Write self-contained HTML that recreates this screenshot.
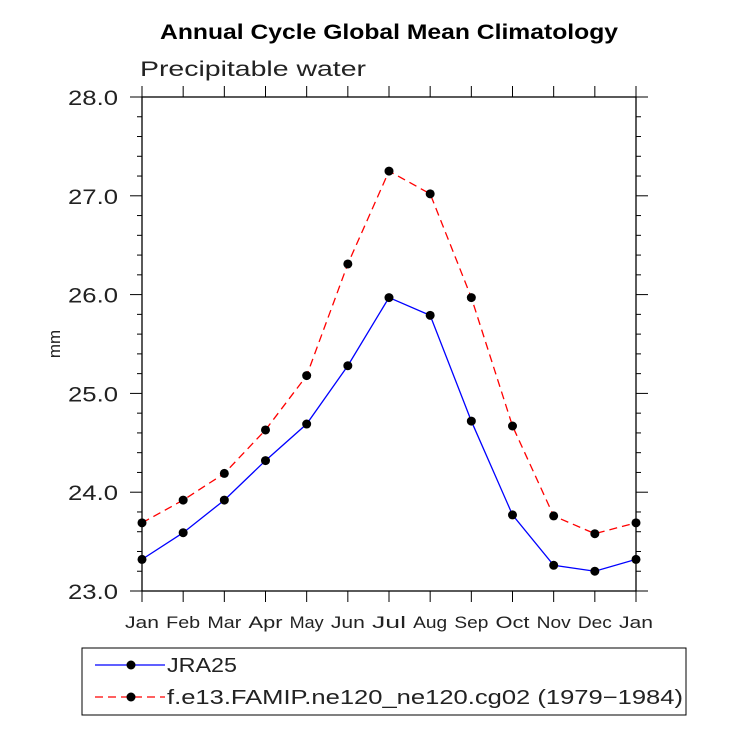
<!DOCTYPE html>
<html><head><meta charset="utf-8"><style>body{margin:0;background:#fff}svg text{font-family:"Liberation Sans",sans-serif}</style></head>
<body>
<svg id="c" width="733" height="734" xmlns="http://www.w3.org/2000/svg">
<text x="160" y="39" font-size="21" font-weight="bold" textLength="458" lengthAdjust="spacingAndGlyphs">Annual Cycle Global Mean Climatology</text>
<text x="140" y="76" font-size="21" fill="#222" textLength="226" lengthAdjust="spacingAndGlyphs">Precipitable water</text>
<text transform="translate(60,344) rotate(-90)" text-anchor="middle" font-size="17" fill="#222">mm</text>
<g id="axes"></g><g id="series"></g>
<g>
<rect x="82" y="648" width="604" height="67" fill="none" stroke="#000" stroke-width="1"/>
<line x1="95" y1="665" x2="165" y2="665" stroke="#00f" stroke-width="1.3"/><circle cx="131" cy="665" r="4.5"/>
<text x="167" y="672" font-size="20" fill="#222" textLength="70" lengthAdjust="spacingAndGlyphs">JRA25</text>
<line x1="95" y1="697" x2="165" y2="697" stroke="#f00" stroke-width="1.3" stroke-dasharray="8,5"/><circle cx="131" cy="697" r="4.5"/>
<text x="167" y="704" font-size="20" fill="#222" textLength="516" lengthAdjust="spacingAndGlyphs">f.e13.FAMIP.ne120_ne120.cg02 (1979−1984)</text>
</g>
</svg>
<script>
const months=["Jan","Feb","Mar","Apr","May","Jun","Jul","Aug","Sep","Oct","Nov","Dec","Jan"];
const jra25=[23.32,23.59,23.92,24.32,24.69,25.28,25.97,25.79,24.72,23.77,23.26,23.20,23.32];
const famip=[23.69,23.92,24.19,24.63,25.18,26.31,27.25,27.02,25.97,24.67,23.76,23.58,23.69];
const yTicks=["23.0","24.0","25.0","26.0","27.0","28.0"];
const NS="http://www.w3.org/2000/svg";
const L=142,R=636,T=97,B=591,ymin=23,ymax=28;
const xs=i=>L+(R-L)*i/(months.length-1);
const ys=v=>B-(v-ymin)/(ymax-ymin)*(B-T);
function mk(t,a,p){const e=document.createElementNS(NS,t);for(const k in a)e.setAttribute(k,a[k]);p.appendChild(e);return e;}
const ax=document.getElementById('axes');
const frame=mk('rect',{x:L,y:T,width:R-L,height:B-T,fill:'none',stroke:'#000','stroke-width':1.3},ax);


for(let v=ymin;v<=ymax+1e-9;v+=0.2){const y=ys(v);const maj=Math.abs(v-Math.round(v))<1e-6;const len=maj?12:5;
mk('line',{x1:L-len,y1:y,x2:L,y2:y,stroke:'#000'},ax);mk('line',{x1:R,y1:y,x2:R+len,y2:y,stroke:'#000'},ax);}
yTicks.forEach(s=>{const t=mk('text',{x:L-24,y:ys(parseFloat(s))+8,'text-anchor':'end','font-size':21,fill:'#222',textLength:50,lengthAdjust:'spacingAndGlyphs'},ax);t.textContent=s;

});
months.forEach((m,i)=>{const x=xs(i);mk('line',{x1:x,y1:B,x2:x,y2:B+11,stroke:'#000'},ax);mk('line',{x1:x,y1:T-11,x2:x,y2:T,stroke:'#000'},ax);
const t=mk('text',{x:x-17,y:B+37,'font-size':17,fill:'#222',textLength:34,lengthAdjust:'spacingAndGlyphs'},ax);t.textContent=m;

});
const sg=document.getElementById('series');
function draw(d,col,dash,name){const pl=mk('polyline',{points:d.map((v,i)=>xs(i)+','+ys(v)).join(' '),fill:'none',stroke:col,'stroke-width':1.3,'stroke-dasharray':dash},sg);


d.forEach((v,i)=>{const c=mk('circle',{cx:xs(i),cy:ys(v),r:4.5,fill:'#000'},sg);

});}
draw(jra25,'#00f','none','jra25');
draw(famip,'#f00','8,5','famip');
</script>
</body></html>
